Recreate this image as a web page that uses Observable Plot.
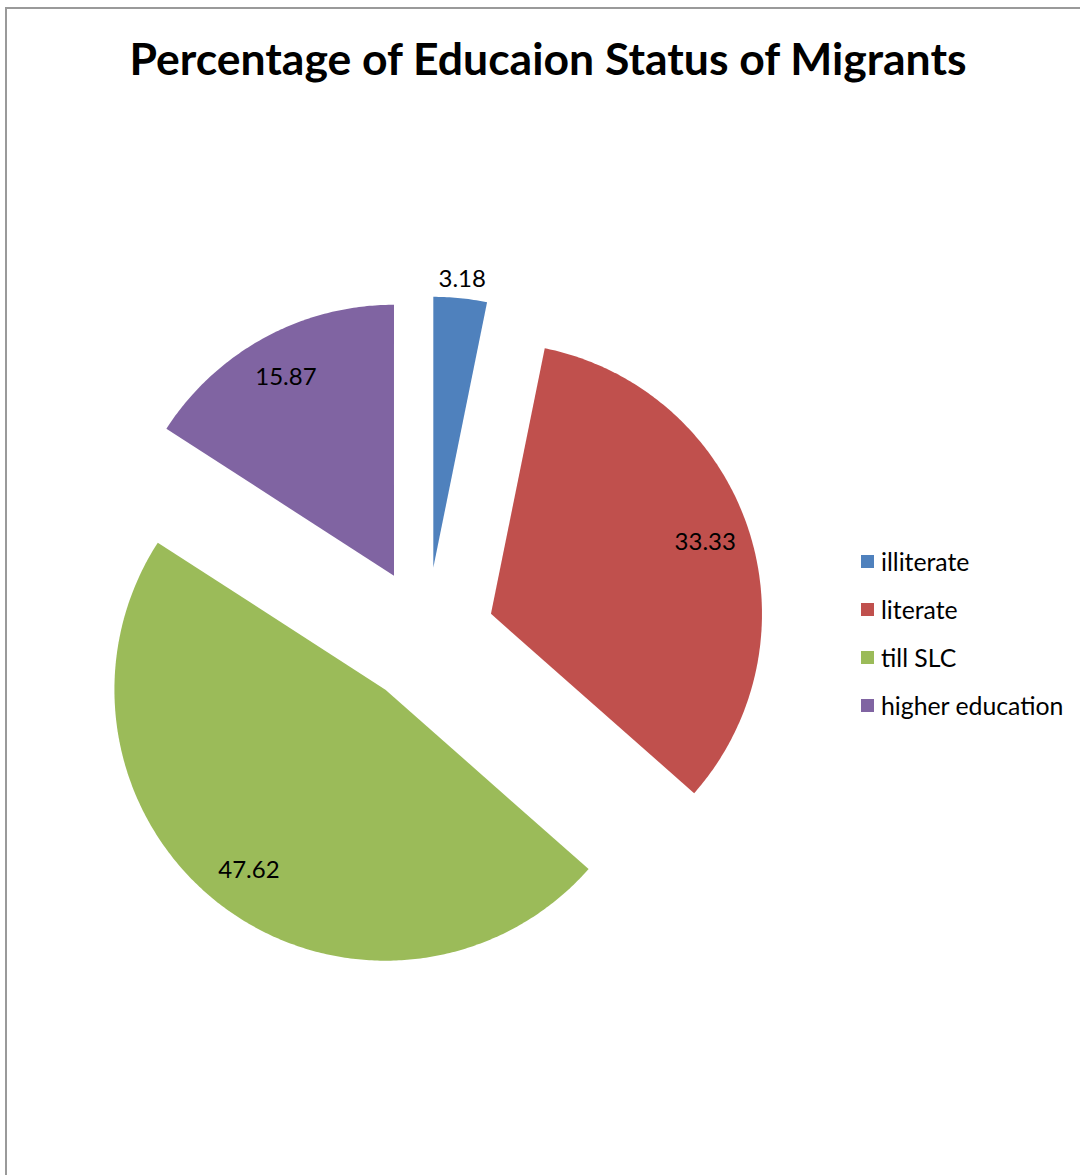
<!DOCTYPE html>
<html><head><meta charset="utf-8">
<script src="https://cdn.jsdelivr.net/npm/d3@7"></script>
<script src="https://cdn.jsdelivr.net/npm/@observablehq/plot@0.6"></script>
<style>
html,body{margin:0;padding:0;background:#fff;overflow:hidden;}
#wrap{position:relative;width:1080px;height:1175px;overflow:hidden;font-family:Lato,"Open Sans",sans-serif;}
#frame{position:absolute;left:5px;top:7px;width:1200px;height:1300px;border:2px solid #9a9a9a;}
#title{position:absolute;left:0;width:1096px;top:32px;text-align:center;font-weight:bold;font-size:44.5px;line-height:52px;color:#000;}
#chart{position:absolute;left:0;top:0;}
#legend{position:absolute;left:861px;top:537px;font-size:24.8px;color:#000;}
.row{display:flex;align-items:center;height:48px;}
.sw{width:13px;height:13px;margin-right:7px;flex:none;}
</style></head><body>
<div id="wrap"><div id="frame"></div><div id="chart"></div><div id="title">Percentage of Educaion Status of Migrants</div><div id="legend"></div></div>
<script>
const categories = ["illiterate", "literate", "till SLC", "higher education"];
const values = [3.18, 33.33, 47.62, 15.87];
const labels = ["3.18", "33.33", "47.62", "15.87"];
const colors = ["#4F81BD", "#C0504D", "#9BBB59", "#8064A2"];

// layout (pixels)
const W = 1080, H = 1175;
const CX = 426, CY = 635, R = 271;
const explode = 68 / R;
const labelInside = 226 / R, labelOutside = 290 / R;

const total = d3.sum(values);
const pts = [];
const lab = [];
let acc = 0;
values.forEach((v, i) => {
  const a0 = acc / total * 2 * Math.PI;
  acc += v;
  const a1 = acc / total * 2 * Math.PI;
  const mid = (a0 + a1) / 2;
  const ox = explode * Math.sin(mid), oy = explode * Math.cos(mid);
  pts.push({cat: categories[i], x: ox, y: oy});
  const n = Math.max(8, Math.ceil((a1 - a0) / 0.01));
  for (let k = 0; k <= n; k++) {
    const t = a0 + (a1 - a0) * k / n;
    pts.push({cat: categories[i], x: ox + Math.sin(t), y: oy + Math.cos(t)});
  }
  const lr = (a1 - a0) < 0.3 ? labelOutside : labelInside;
  lab.push({text: labels[i], x: ox + lr * Math.sin(mid), y: oy + lr * Math.cos(mid)});
});

const chart = Plot.plot({
  width: W, height: H, margin: 0,
  style: {fontFamily: "Lato, 'Open Sans', sans-serif", background: "transparent"},
  x: {domain: [-CX / R, (W - CX) / R], axis: null},
  y: {domain: [(CY - H) / R, CY / R], axis: null},
  color: {domain: categories, range: colors},
  marks: [
    Plot.line(pts, {x: "x", y: "y", z: "cat", fill: "cat", stroke: null, curve: "linear-closed"}),
    Plot.text(lab, {x: "x", y: "y", text: "text", fontSize: 24, fill: "#000"})
  ]
});
document.getElementById("chart").appendChild(chart);

const lg = document.getElementById("legend");
categories.forEach((c, i) => {
  const row = document.createElement("div");
  row.className = "row";
  const sw = document.createElement("div");
  sw.className = "sw";
  sw.style.background = colors[i];
  const tx = document.createElement("span");
  tx.textContent = c;
  row.appendChild(sw); row.appendChild(tx);
  lg.appendChild(row);
});
</script>
</body></html>
